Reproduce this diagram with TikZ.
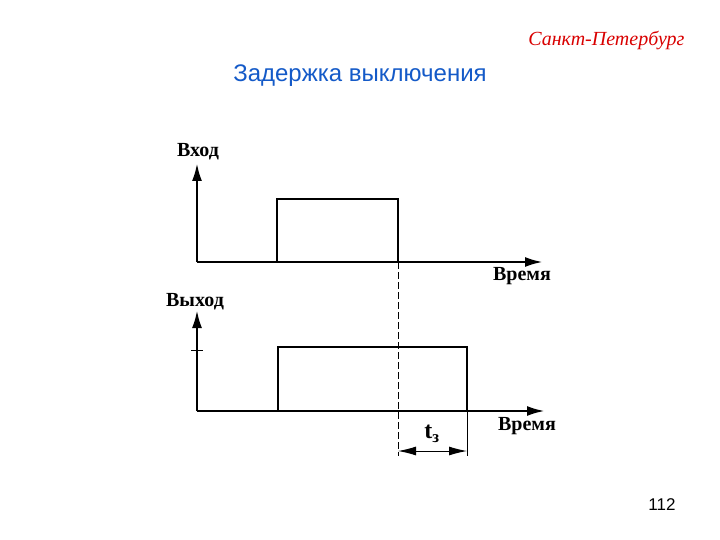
\documentclass[tikz,border=0pt]{standalone}
\usepackage{fontspec}
\setmainfont{Liberation Serif}
\newfontfamily\arialf{Liberation Sans}
\usetikzlibrary{arrows.meta}
\begin{document}
\begin{tikzpicture}[x=1pt,y=-1pt,
  ax/.style={line width=2.6pt,-{Latex[length=18pt,width=10pt]}},
  sig/.style={line width=2.6pt},
  lbl/.style={font=\bfseries\fontsize{20}{20}\selectfont,inner sep=0pt},
  dim/.style={line width=1pt,{Latex[length=18pt,width=9pt]}-{Latex[length=18pt,width=9pt]}}]
\useasboundingbox[fill=white] (0,0) rectangle (720,540);
\node[font=\itshape\fontsize{20}{20}\selectfont,text=red!85!black,anchor=east] (city) at (688,41) {Санкт-Петербург};
\node[font=\arialf\fontsize{24}{24}\selectfont,text={rgb,255:red,20;green,90;blue,200}] (title) at (360,76) {Задержка выключения};
% upper
\coordinate (o1) at (197,262);
\coordinate (y1) at (197,163);
\coordinate (x1) at (543,262);
\draw[ax] (o1) -- (y1);
\draw[ax] (o1) -- (x1);
\draw[sig] (o1) -- (277,262) -- (277,199) -- (398,199) -- (398,262);
\node[lbl] (in) at (198,152) {Вход};
\node[lbl] (t1) at (522,276) {Время};
% lower
\coordinate (o2) at (197,411);
\coordinate (y2) at (197,310);
\coordinate (x2) at (545,411);
\draw[ax] (o2) -- (y2);
\draw[ax] (o2) -- (x2);
\draw[line width=0.8pt] (191,350) -- (203,350);
\draw[sig] (o2) -- (278,411) -- (278,347) -- (467,347) -- (467,411);
\node[lbl] (out) at (195,302) {Выход};
\node[lbl] (t2) at (527,426) {Время};
% delay
\coordinate (d1) at (398,262);
\coordinate (d2) at (398,456);
\coordinate (e1) at (467,411);
\coordinate (e2) at (467,456);
\draw[line width=1pt,dash pattern=on 7pt off 3pt] (d1) -- (d2);
\draw[line width=1pt] (e1) -- (e2);
\coordinate (a1) at (398,451);
\coordinate (a2) at (467,451);
\draw[dim] (a1) -- (a2);
\node[font=\bfseries\fontsize{24}{24}\selectfont,inner sep=0pt] (tz) at (432,434) {t\textsubscript{з}};
\node[font=\arialf\fontsize{17}{17}\selectfont] (pg) at (662,505) {112};
\end{tikzpicture}
\end{document}
